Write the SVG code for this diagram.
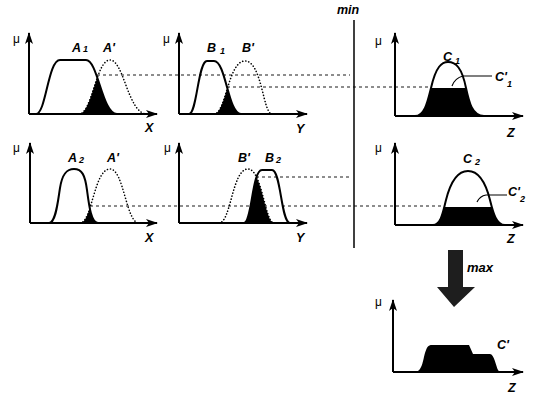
<svg xmlns="http://www.w3.org/2000/svg" width="536" height="399" viewBox="0 0 536 399">
<style>
.ax{stroke:#000;stroke-width:2;fill:none;marker-end:url(#ah)}
.cv{stroke:#000;stroke-width:2;fill:none;stroke-linejoin:round}
.dt{stroke:#000;stroke-width:1.6;fill:none;stroke-dasharray:0.1 3;stroke-linecap:round}
.ds{stroke:#000;stroke-width:0.9;fill:none;stroke-dasharray:3 3}
.fl{fill:#000;stroke:none}
.lb{font-family:"Liberation Sans",Arial,sans-serif;font-weight:bold;font-style:italic;font-size:12.5px;fill:#000}
.sb{font-family:"Liberation Sans",Arial,sans-serif;font-weight:bold;font-style:italic;font-size:9px;fill:#000}
.mu{font-family:"Liberation Sans",Arial,sans-serif;font-size:12px;fill:#000}
</style>
<defs>
<marker id="ah" viewBox="0 0 12 8" refX="11" refY="4" markerWidth="12" markerHeight="8" markerUnits="userSpaceOnUse" orient="auto">
<path d="M0,0 L12,4 L0,8 L3,4 Z" fill="#000"/>
</marker>
<clipPath id="cA1"><path d="M36,114 C46,114 48,60 60,60 L86,60 C98,60 102,114 117,114 Z"/></clipPath>
<clipPath id="cB1"><path d="M189,114 C197,114 198,61 207,61 L214,61 C226,61 228,114 241,114 Z"/></clipPath>
<clipPath id="cA2"><path d="M49,223 C56,223 58,200 60,188 C62,175 66,169 74,169 C82,169 85,175 87,190 C89,205 91,223 98,223 Z"/></clipPath>
<clipPath id="cB2"><path d="M244,223 C252,223 252,170 262,170 L272,170 C281,170 281,223 290,223 Z"/></clipPath>
<clipPath id="cC1"><rect x="395" y="88" width="130" height="30"/></clipPath>
<clipPath id="cC2"><rect x="395" y="207" width="130" height="20"/></clipPath>
</defs>

<g id="panel-A1">
<path class="ax" d="M29,114 V33"/>
<path class="ax" d="M29,114 H157"/>
<text class="mu" x="13" y="43">μ</text>
<path class="fl" clip-path="url(#cA1)" d="M79,114 C92,114 96,60 110,60 C124,60 128,114 147,114 Z"/>
<path class="cv" d="M36,114 C46,114 48,60 60,60 L86,60 C98,60 102,114 117,114"/>
<path class="dt" d="M79,114 C92,114 96,60 110,60 C124,60 128,114 147,114"/>
<text class="lb" x="72" y="52">A</text>
<text class="sb" x="83" y="52">1</text>
<text class="lb" x="103" y="52">A'</text>
<text class="lb" x="145" y="132">X</text>
</g>

<g id="panel-B1">
<path class="ax" d="M179,114 V33"/>
<path class="ax" d="M179,114 H307"/>
<text class="mu" x="163" y="43">μ</text>
<path class="fl" clip-path="url(#cB1)" d="M214,114 C226,114 228,61 245,61 C262,61 263,114 272,114 Z"/>
<path class="cv" d="M189,114 C197,114 198,61 207,61 L214,61 C226,61 228,114 241,114"/>
<path class="dt" d="M214,114 C226,114 228,61 245,61 C262,61 263,114 272,114"/>
<text class="lb" x="207" y="52">B</text>
<text class="sb" x="220" y="54">1</text>
<text class="lb" x="242" y="52">B'</text>
<text class="lb" x="296" y="133">Y</text>
</g>

<g id="panel-C1">
<path class="ax" d="M395,116 V33"/>
<path class="ax" d="M395,116 H523"/>
<text class="mu" x="375" y="45">μ</text>
<path class="fl" clip-path="url(#cC1)" d="M415,116 C425,116 428,100 431,88 C436,66 442,62 448,62 C456,62 462,68 466,88 C469,102 472,116 484,116 Z"/>
<path class="cv" d="M415,116 C425,116 428,100 431,88 C436,66 442,62 448,62 C456,62 462,68 466,88 C469,102 472,116 484,116"/>
<path class="cv" style="stroke-width:1.2" d="M452,86 Q455,78 463,76 L492,76"/>
<text class="lb" x="443" y="61">C</text>
<text class="sb" x="455" y="64">1</text>
<text class="lb" x="495" y="81">C'</text>
<text class="sb" x="507" y="87">1</text>
<text class="lb" x="507" y="137">Z</text>
</g>

<g id="panel-A2">
<path class="ax" d="M30,223 V143"/>
<path class="ax" d="M30,223 H157"/>
<text class="mu" x="13" y="152">μ</text>
<path class="fl" clip-path="url(#cA2)" d="M80,223 C92,223 94,169 110,169 C124,169 126,223 139,223 Z"/>
<path class="cv" d="M49,223 C56,223 58,200 60,188 C62,175 66,169 74,169 C82,169 85,175 87,190 C89,205 91,223 98,223"/>
<path class="dt" d="M80,223 C92,223 94,169 110,169 C124,169 126,223 139,223"/>
<text class="lb" x="68" y="162">A</text>
<text class="sb" x="79" y="163">2</text>
<text class="lb" x="107" y="162">A'</text>
<text class="lb" x="145" y="242">X</text>
</g>

<g id="panel-B2">
<path class="ax" d="M179,223 V143"/>
<path class="ax" d="M179,223 H307"/>
<text class="mu" x="164" y="152">μ</text>
<path class="fl" clip-path="url(#cB2)" d="M219,223 C231,223 232,169 248,169 C262,169 265,223 274,223 Z"/>
<path class="dt" d="M219,223 C231,223 232,169 248,169 C262,169 265,223 274,223"/>
<path class="cv" d="M244,223 C252,223 252,170 262,170 L272,170 C281,170 281,223 290,223"/>
<text class="lb" x="238" y="162">B'</text>
<text class="lb" x="265" y="162">B</text>
<text class="sb" x="276" y="163">2</text>
<text class="lb" x="296" y="242">Y</text>
</g>

<g id="panel-C2">
<path class="ax" d="M395,225 V143"/>
<path class="ax" d="M395,225 H523"/>
<text class="mu" x="375" y="152">μ</text>
<path class="fl" clip-path="url(#cC2)" d="M433,225 C441,225 443,212 446,200 C451,180 459,171 468,171 C477,171 485,180 490,200 C493,212 496,225 505,225 Z"/>
<path class="cv" d="M433,225 C441,225 443,212 446,200 C451,180 459,171 468,171 C477,171 485,180 490,200 C493,212 496,225 505,225"/>
<path class="cv" style="stroke-width:1.2" d="M477,202 Q480,196 486,195 L507,195"/>
<text class="lb" x="463" y="163">C</text>
<text class="sb" x="475" y="165">2</text>
<text class="lb" x="508" y="196">C'</text>
<text class="sb" x="520" y="202">2</text>
<text class="lb" x="507" y="243">Z</text>
</g>

<g id="min-line">
<line x1="354" y1="20" x2="354" y2="248" stroke="#000" stroke-width="1.5"/>
<text class="lb" x="337" y="14">min</text>
</g>

<g id="max-arrow">
<path d="M448,250 H463 V287 H475 L454,307 L437,287 H448 Z" fill="#1e1e1e"/>
<text class="lb" x="467" y="272" style="font-size:13px">max</text>
</g>

<g id="panel-C-out">
<path class="ax" d="M393,372 V300"/>
<path class="ax" d="M393,372 H523"/>
<text class="mu" x="375" y="306">μ</text>
<path class="fl" d="M415,372 C422,372 423,360 425,353 C427,347 428,345 432,345 L469,345 L473,354 L490,354 C494,354 496,366 498,370 C499,372 501,372 505,372 Z"/>
<text class="lb" x="497" y="349">C'</text>
<text class="lb" x="508" y="392">Z</text>
</g>

<g id="connectors">
<line class="ds" x1="97" y1="75" x2="350" y2="75"/>
<line class="ds" x1="227" y1="87" x2="430" y2="87"/>
<line class="ds" x1="90" y1="206" x2="445" y2="206"/>
<line class="ds" x1="256" y1="177" x2="350" y2="177"/>
</g>
</svg>
